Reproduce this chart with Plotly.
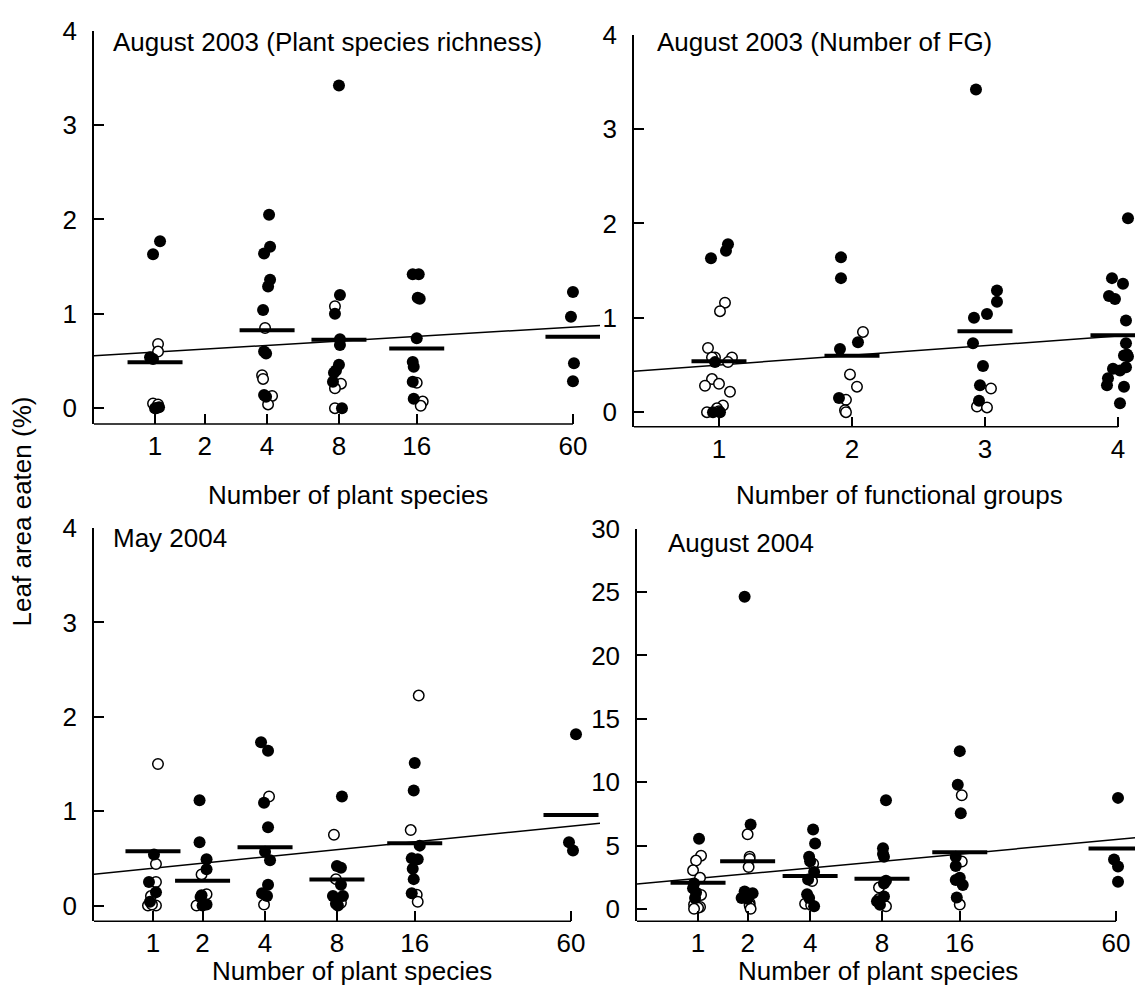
import numpy as np
import plotly.graph_objects as go

W, H = 1135, 997
FONT = "Liberation Sans, Arial, sans-serif"
FS = 26

# ---------------- data ----------------
# Species-richness levels and functional-group levels
species_levels = [1, 2, 4, 8, 16, 60]
species_labels = ["1", "2", "4", "8", "16", "60"]
fg_levels = [1, 2, 3, 4]
fg_labels = ["1", "2", "3", "4"]

# Panel A: August 2003 vs. plant species richness
a_fill_n = [1]*6 + [4]*10 + [8]*10 + [16]*9 + [60]*4
a_fill_y = [1.63, 1.77, 0.54, 0.52, 0.00, 0.01,
            2.05, 1.71, 1.64, 1.36, 1.29, 1.04, 0.60, 0.58, 0.14, 0.12,
            3.42, 1.20, 1.00, 0.73, 0.67, 0.46, 0.40, 0.375, 0.28, 0.00,
            1.42, 1.42, 1.17, 1.16, 0.74, 0.49, 0.44, 0.28, 0.10,
            1.23, 0.97, 0.476, 0.285]
a_fill_j = [-2, 5, -5, -2, 0, 4,
            2, 3, -3, 3, 1, -4, -3, -1, -3, -1,
            0, 1, -4, 1, 1, 0, -3, -5, -6, 3,
            -4, 2, 1, 3, 0, -4, -3, -4, -3,
            0, -2, 1, 0]
a_open_n = [1]*5 + [4]*5 + [8]*4 + [16]*3
a_open_y = [0.68, 0.60, 0.05, 0.04, 0.00,
            0.85, 0.35, 0.31, 0.13, 0.04,
            1.08, 0.26, 0.21, 0.00,
            0.27, 0.07, 0.025]
a_open_j = [3, 3, -2, 3, 1,
            -2, -5, -4, 5, 1,
            -4, 2, -4, -4,
            0, 6, 4]
a_mean_n = [1, 4, 8, 16, 60]
a_mean_y = [0.486, 0.826, 0.726, 0.632, 0.757]
a_fit = (0.540, 0.0777)   # intercept, slope on ln(n+1)

# Panel B: August 2003 vs. number of functional groups
b_fill_n = [1]*6 + [2]*5 + [3]*9 + [4]*17
b_fill_y = [1.63, 1.78, 1.71, 0.53, 0.00, 0.00,
            1.64, 1.42, 0.74, 0.67, 0.15,
            3.42, 1.29, 1.17, 1.04, 1.00, 0.73, 0.49, 0.285, 0.12,
            2.055, 1.42, 1.36, 1.23, 1.20, 0.97, 0.73, 0.61, 0.60, 0.59,
            0.475, 0.46, 0.44, 0.36, 0.285, 0.27, 0.094]
b_fill_j = [-8, 9, 7, -4, -6, 1,
            -11, -11, 6, -12, -13,
            -9, 12, 12, 2, -11, -12, -2, -5, -6,
            10, -6, 5, -9, -3, 8, 8, 9, 6, 10, 8, -5, 2, -10, -11, 6, 2]
b_open_n = [1]*15 + [2]*6 + [3]*3
b_open_y = [1.16, 1.07, 0.68, 0.58, 0.58, 0.58, 0.53, 0.35, 0.30, 0.28,
            0.215, 0.07, 0.04, 0.01, 0.00,
            0.85, 0.40, 0.27, 0.13, 0.02, 0.00,
            0.25, 0.06, 0.05]
b_open_j = [6, 1, -11, -4, -7, 13, 9, -7, 0, -14, 11, 4, -2, 0, -12,
            11, -2, 5, -6, -7, -6,
            6, -8, 2]
b_mean_n = [1, 2, 3, 4]
b_mean_y = [0.538, 0.597, 0.857, 0.816]
b_fit = (0.397, 0.1025)   # intercept, slope on number of FG

# Panel C: May 2004 vs. plant species richness
c_fill_n = [1]*4 + [2]*8 + [4]*9 + [8]*8 + [16]*8 + [60]*3
c_fill_y = [0.54, 0.25, 0.14, 0.04,
            1.115, 0.67, 0.49, 0.385, 0.11, 0.09, 0.01, 0.00,
            1.73, 1.64, 1.09, 0.83, 0.57, 0.48, 0.22, 0.13, 0.10,
            1.156, 0.42, 0.40, 0.22, 0.10, 0.10, 0.02, 0.00,
            1.51, 1.22, 0.635, 0.50, 0.49, 0.39, 0.28, 0.13,
            1.815, 0.67, 0.583]
c_fill_j = [1, -4, 3, -3,
            -3, -3, 4, 4, -1, -2, 4, 0,
            -4, 3, -1, 3, 0, 5, 3, -3, 2,
            5, 0, 4, 4, -4, 6, -1, 1,
            0, -1, 5, -3, 3, -2, -1, -3,
            5, -2, 2]
c_open_n = [1]*7 + [2]*3 + [4]*2 + [8]*3 + [16]*4
c_open_y = [1.50, 0.44, 0.25, 0.10, 0.00, 0.00, 0.01,
            0.33, 0.12, 0.00,
            1.156, 0.01,
            0.75, 0.28, 0.03,
            2.225, 0.80, 0.115, 0.04]
c_open_j = [5, 3, 3, -2, 3, -5, -1,
            -1, 4, -6,
            4, -1,
            -3, -1, 4,
            4, -4, 2, 3]
c_mean_n = [1, 2, 4, 8, 16, 60]
c_mean_y = [0.576, 0.264, 0.618, 0.277, 0.66, 0.96]
c_fit = (0.3055, 0.1304)

# Panel D: August 2004 vs. plant species richness
d_fill_n = [1]*5 + [2]*6 + [4]*9 + [8]*9 + [16]*9 + [60]*4
d_fill_y = [5.54, 2.0, 1.62, 1.29, 0.85,
            24.64, 6.65, 1.37, 1.24, 0.85, 0.80,
            6.26, 5.15, 4.12, 3.76, 2.91, 2.32, 1.16, 0.85, 0.2,
            8.58, 4.79, 4.33, 4.12, 2.22, 2.01, 0.98, 0.6, 0.33,
            12.45, 9.79, 7.55, 4.12, 3.38, 2.45, 2.27, 1.88, 0.9,
            8.76, 3.89, 3.35, 2.14]
d_fill_j = [1, -4, -5, -2, -3,
            -3, 3, -3, 5, -6, 0,
            3, 5, -1, 0, 4, -2, -3, -1, 4,
            4, 1, 1, 2, 4, 2, 2, -5, -2,
            0, -2, 1, -4, -4, 0, -4, 3, -3,
            2, -2, 2, 2]
d_open_n = [1]*9 + [2]*7 + [4]*4 + [8]*3 + [16]*3
d_open_y = [4.20, 3.81, 3.04, 2.45, 1.10, 0.34, 0.15, 0.08, 0.0,
            5.88, 4.12, 3.94, 3.30, 0.46, 0.28, 0.0,
            3.56, 2.19, 0.41, 0.30,
            1.68, 0.77, 0.20,
            8.97, 3.74, 0.34]
d_open_j = [3, -2, -5, 2, 3, -4, 2, 0, -4,
            0, 2, 2, 1, 2, 2, 3,
            3, 2, -5, 1,
            -3, -3, 4,
            2, 2, 0]
d_mean_n = [1, 2, 4, 8, 16, 60]
d_mean_y = [2.06, 3.76, 2.60, 2.37, 4.46, 4.77]
d_fit = (1.787, 0.8966)

# ---------------- layout helpers ----------------
def fx(px):
    return px / W

def fy(px):
    return 1 - px / H

log_pos = lambda n: np.log(np.asarray(n, float) + 1)
lin_pos = lambda n: np.asarray(n, float)

panels = [
    dict(name="A", fill=(a_fill_n, a_fill_y, a_fill_j), opn=(a_open_n, a_open_y, a_open_j),
         mean=(a_mean_n, a_mean_y), fit=a_fit, pos=log_pos, ppu=122.3,
         ticks=species_levels, ticktext=species_labels, xend=60,
         xdom=(94, 600), ydom=(416, 16), xr=(0.194, 4.332), yr=(-0.1667, 4),
         yticks=[0, 1, 2, 3, 4], title="August 2003 (Plant species richness)",
         tpos=(111, 27), xlab="Number of plant species", xlpos=(348, 488)),
    dict(name="B", fill=(b_fill_n, b_fill_y, b_fill_j), opn=(b_open_n, b_open_y, b_open_j),
         mean=(b_mean_n, b_mean_y), fit=b_fit, pos=lin_pos, ppu=133.0,
         ticks=fg_levels, ticktext=fg_labels, xend=4,
         xdom=(634, 1135), ydom=(419, 20), xr=(0.361, 4.128), yr=(-0.156, 4),
         yticks=[0, 1, 2, 3, 4], title="August 2003 (Number of FG)",
         tpos=(655, 27), xlab="Number of functional groups", xlpos=(900, 488)),
    dict(name="C", fill=(c_fill_n, c_fill_y, c_fill_j), opn=(c_open_n, c_open_y, c_open_j),
         mean=(c_mean_n, c_mean_y), fit=c_fit, pos=log_pos, ppu=122.3,
         ticks=species_levels, ticktext=species_labels, xend=60,
         xdom=(94, 600), ydom=(922, 522), xr=(0.211, 4.348), yr=(-0.1667, 4),
         yticks=[0, 1, 2, 3, 4], title="May 2004",
         tpos=(111, 532), xlab="Number of plant species", xlpos=(352, 973)),
    dict(name="D", fill=(d_fill_n, d_fill_y, d_fill_j), opn=(d_open_n, d_open_y, d_open_j),
         mean=(d_mean_n, d_mean_y), fit=d_fit, pos=log_pos, ppu=122.3,
         ticks=species_levels, ticktext=species_labels, xend=60,
         xdom=(637, 1135), ydom=(922, 522.7), xr=(0.194, 4.266), yr=(-0.98, 30),
         yticks=[0, 5, 10, 15, 20, 25, 30], title="August 2004",
         tpos=(666, 537), xlab="Number of plant species", xlpos=(878, 973)),
]

fig = go.Figure()
layout = dict(width=W, height=H, margin=dict(l=0, r=0, t=0, b=0),
              paper_bgcolor="white", plot_bgcolor="white", showlegend=False,
              font=dict(family=FONT, size=FS, color="black"))
shapes, annotations = [], []
BAR_HALF = 27.5  # half-width of mean bars in px

for i, p in enumerate(panels, start=1):
    xa = "x" if i == 1 else f"x{i}"
    ya = "y" if i == 1 else f"y{i}"
    pos, ppu = p["pos"], p["ppu"]

    # regression line over the full x range
    xs = np.array(p["xr"])
    fig.add_trace(go.Scatter(x=xs, y=p["fit"][0] + p["fit"][1] * xs, mode="lines",
                             line=dict(color="black", width=1.5), xaxis=xa, yaxis=ya,
                             hoverinfo="skip"))

    # open circles
    n, y, j = p["opn"]
    fig.add_trace(go.Scatter(x=pos(n) + np.array(j) / ppu, y=y, mode="markers",
                             marker=dict(symbol="circle", size=10.5, color="white",
                                         line=dict(color="black", width=1.5)),
                             xaxis=xa, yaxis=ya))
    # filled circles
    n, y, j = p["fill"]
    fig.add_trace(go.Scatter(x=pos(n) + np.array(j) / ppu, y=y, mode="markers",
                             marker=dict(symbol="circle", size=12, color="black",
                                         line=dict(color="black", width=0)),
                             xaxis=xa, yaxis=ya))

    # mean bars
    mx, my = [], []
    hw = BAR_HALF / ppu
    for c, v in zip(pos(p["mean"][0]), p["mean"][1]):
        mx += [c - hw, c + hw, None]
        my += [v, v, None]
    fig.add_trace(go.Scatter(x=mx, y=my, mode="lines", line=dict(color="black", width=4),
                             xaxis=xa, yaxis=ya, hoverinfo="skip"))

    key_x = "xaxis" if i == 1 else f"xaxis{i}"
    key_y = "yaxis" if i == 1 else f"yaxis{i}"
    layout[key_x] = dict(domain=[fx(p["xdom"][0]), fx(p["xdom"][1])], range=list(p["xr"]),
                         anchor=ya, showgrid=False, zeroline=False, showline=False,
                         tickmode="array", tickvals=list(pos(p["ticks"])),
                         ticktext=p["ticktext"], ticks="inside", ticklen=10,
                         tickwidth=1.5, tickcolor="black", ticklabelstandoff=4,
                         tickfont=dict(family=FONT, size=FS, color="black"))
    layout[key_y] = dict(domain=[fy(p["ydom"][0]), fy(p["ydom"][1])], range=list(p["yr"]),
                         anchor=xa, showgrid=False, zeroline=False, showline=True,
                         linecolor="black", linewidth=1.5,
                         tickmode="array", tickvals=p["yticks"], ticks="inside",
                         ticklen=10, tickwidth=1.5, tickcolor="black",
                         ticklabelstandoff=10,
                         tickfont=dict(family=FONT, size=FS, color="black"))

    # bottom axis line stops at the last category tick
    shapes.append(dict(type="line", xref=xa, yref="paper",
                       x0=p["xr"][0], x1=float(pos([p["xend"]])[0]),
                       y0=fy(p["ydom"][0]), y1=fy(p["ydom"][0]),
                       line=dict(color="black", width=1.5)))

    annotations.append(dict(text=p["title"], xref="paper", yref="paper",
                            x=fx(p["tpos"][0]), y=fy(p["tpos"][1]),
                            xanchor="left", yanchor="middle", showarrow=False,
                            font=dict(family=FONT, size=FS, color="black")))
    annotations.append(dict(text=p["xlab"], xref="paper", yref="paper",
                            x=fx(p["xlpos"][0]), y=fy(p["xlpos"][1]),
                            xanchor="center", yanchor="middle", showarrow=False,
                            font=dict(family=FONT, size=FS, color="black")))

annotations.append(dict(text="Leaf area eaten (%)", xref="paper", yref="paper",
                        x=fx(22), y=fy(505), textangle=-90, xanchor="center",
                        yanchor="middle", showarrow=False,
                        font=dict(family=FONT, size=FS, color="black")))

layout["shapes"] = shapes
layout["annotations"] = annotations
fig.update_layout(**layout)
fig.write_html("out.html")
